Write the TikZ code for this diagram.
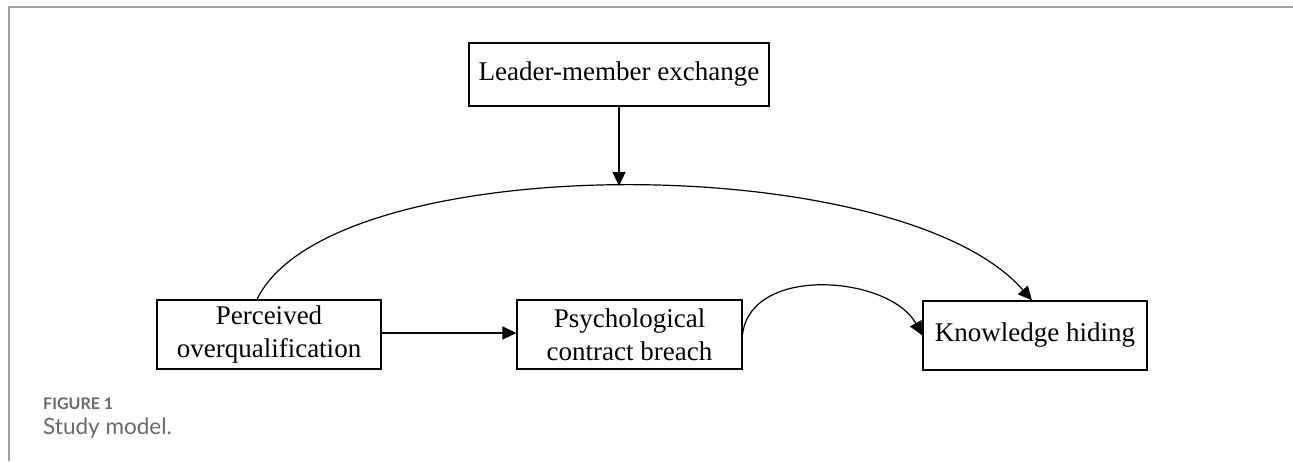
\documentclass[tikz,border=0pt]{standalone}
\usepackage{fontspec}
\setmainfont{Liberation Serif}
\newfontfamily\capfont{Lato}
\usetikzlibrary{arrows.meta,calc}
\definecolor{framegray}{RGB}{160,160,160}
\definecolor{capgray}{RGB}{105,105,105}
\tikzset{
  varbox/.style={draw=black, line width=1.1pt, fill=white, inner sep=0pt,
    align=center, font=\fontsize{27}{33}\selectfont},
  link/.style={draw=black, line width=1.2pt,
    -{Triangle[length=14pt,width=13pt]}},
  capfig/.style={anchor=base west, inner sep=0pt, text=capgray,
    font=\capfont\bfseries\fontsize{16}{19}\selectfont},
  captext/.style={anchor=base west, inner sep=0pt, text=capgray,
    font=\capfont\fontsize{22.5}{27}\selectfont}
}
\begin{document}
\begin{tikzpicture}[x=1pt,y=-1pt]
  \useasboundingbox (0,0) rectangle (1293,461);
  \fill[white] (0,0) rectangle (1293,461);
  % figure frame (top and left rules)
  \draw[framegray, line width=1.2pt] (9,461) -- (9,7) -- (1293,7);

  % variables
  \node[varbox, minimum width=300pt, minimum height=63pt] (lmx) at (619,74.5)
    {Leader-member exchange};
  \node[varbox, minimum width=224pt, minimum height=69pt] (poq) at (269,334.5)
    {Perceived\\overqualification};
  \node[varbox, minimum width=225pt, minimum height=69pt] (pcb) at (629.5,334.5)
    {Psychological\\contract breach};
  \node[varbox, minimum width=224pt, minimum height=69pt] (kh) at (1035,335.5)
    {Knowledge hiding};

  % paths
  \coordinate (arctop) at (619,186);
  \draw[link] ($(poq.north)+(-12,0)$) .. controls +(73,-152) and +(-132,-152) .. ($(kh.north)+(-3,0)$);
  \draw[link] (lmx.south) -- (arctop);
  \draw[link] (poq.east |- 0,333) -- (pcb.west |- 0,333);
  \draw[link] (pcb.east) .. controls +(8,-70) and +(-33,-60) .. (kh.west);

  % caption
  \node[capfig] (cap1) at (43,409) {FIGURE 1};
  \node[captext] (cap2) at (43,434) {Study model.};
\end{tikzpicture}
\end{document}
